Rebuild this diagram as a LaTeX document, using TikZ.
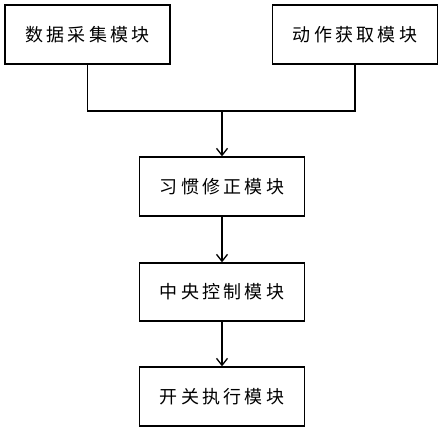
\documentclass[tikz,border=0pt]{standalone}
\usepackage{fontspec}
\newfontfamily\cjk[LetterSpace=18]{Noto Sans CJK SC}
\usetikzlibrary{arrows.meta}

\begin{document}
\begin{tikzpicture}[x=1pt, y=-1pt, line width=1.3pt,
        module/.style={draw, black, minimum width=165pt, minimum height=59pt,
            font={\cjk\fontsize{18}{21}\selectfont}},
        flow/.style={-{Straight Barb[length=7pt, width=11pt]}}]
    \useasboundingbox (0, 0) rectangle (443, 432);

    \node[module] (data) at (87.5, 34.5) {数据采集模块};
    \node[module] (action) at (355, 34.5) {动作获取模块};
    \node[module] (habit) at (222, 186.5) {习惯修正模块};
    \node[module, minimum height=58pt] (central) at (222, 292) {中央控制模块};
    \node[module] (switch) at (222, 396.5) {开关执行模块};

    \coordinate (join) at (222, 111);
    \draw (data.south) |- (join) -| (action.south);
    \draw[flow] (join) -- (habit.north);
    \draw[flow] (habit.south) -- (central.north);
    \draw[flow] (central.south) -- (switch.north);
\end{tikzpicture}
\end{document}
